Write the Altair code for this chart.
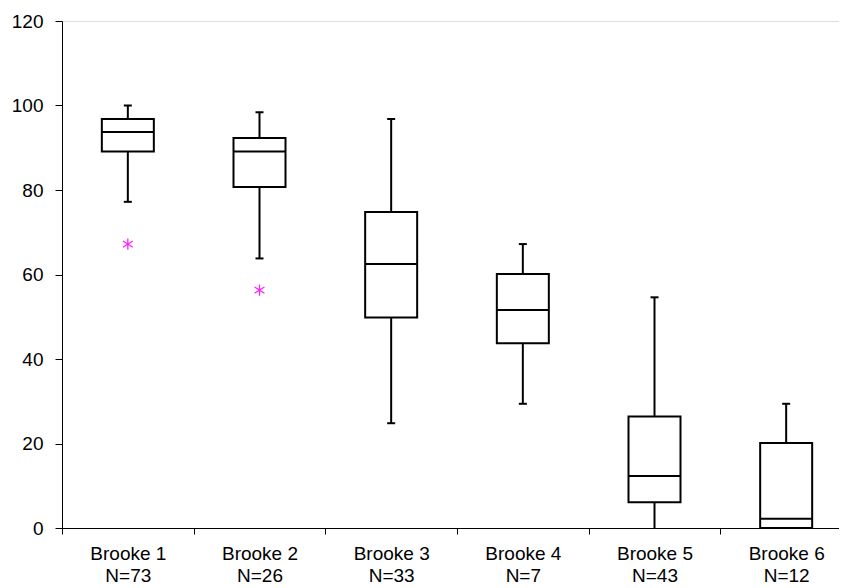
import altair as alt
import pandas as pd

sites = ["Brooke 1", "Brooke 2", "Brooke 3", "Brooke 4", "Brooke 5", "Brooke 6"]
ns = [73, 26, 33, 7, 43, 12]
whisker_low = [77.2, 63.8, 24.8, 29.4, 0.0, 0.0]
q1 = [89.1, 80.7, 49.8, 43.7, 6.1, 0.0]
median = [93.7, 89.1, 62.5, 51.6, 12.3, 2.2]
q3 = [96.8, 92.3, 74.8, 60.1, 26.4, 20.1]
whisker_high = [100.0, 98.4, 96.8, 67.2, 54.6, 29.4]

outlier_sites = ["Brooke 1", "Brooke 2"]
outlier_values = [67.2, 56.3]

y_ticks = [0, 20, 40, 60, 80, 100, 120]

cats = [f"{s}\nN={n}" for s, n in zip(sites, ns)]
lab = dict(zip(sites, cats))

df = pd.DataFrame({
    "cat": cats, "lo": whisker_low, "q1": q1, "med": median,
    "q3": q3, "hi": whisker_high,
})
out_df = pd.DataFrame({"cat": [lab[s] for s in outlier_sites], "val": outlier_values})

FONT = "Liberation Sans"
FS = 19

x = alt.X(
    "cat:N", sort=cats, title=None,
    scale=alt.Scale(domain=cats, range=[0, 790], paddingInner=0, paddingOuter=0),
    axis=alt.Axis(
        labelExpr="split(datum.label, '\\n')", labelAngle=0, tickBand="extent",
        tickSize=6, labelPadding=10, labelLineHeight=22, labelFontSize=FS,
        labelFont=FONT, labelColor="black", domainColor="black", tickColor="black",
        labelBaseline="top",
    ),
)
yscale = alt.Scale(domain=[0, 120], nice=False, zero=True)
yaxis = alt.Axis(values=y_ticks, grid=False, tickSize=7, labelPadding=12,
                 labelFontSize=FS, labelFont=FONT, labelColor="black",
                 domainColor="black", tickColor="black")

base = alt.Chart(df)

whiskers = base.mark_rule(color="black", strokeWidth=2).encode(
    x=x,
    y=alt.Y("lo:Q", scale=yscale, axis=yaxis, title=None),
    y2="hi:Q",
)
boxes = base.mark_bar(size=52, fill="white", stroke="black", strokeWidth=2).encode(
    x=x, y=alt.Y("q1:Q", scale=yscale), y2="q3:Q",
)
med = base.mark_tick(size=52, thickness=2, color="black", opacity=1).encode(
    x=x, y=alt.Y("med:Q", scale=yscale),
)
cap_hi = base.mark_tick(size=8, thickness=2, color="black", opacity=1).encode(
    x=x, y=alt.Y("hi:Q", scale=yscale),
)
cap_lo = base.transform_filter("datum.lo > 0").mark_tick(
    size=8, thickness=2, color="black", opacity=1
).encode(x=x, y=alt.Y("lo:Q", scale=yscale))
star = "M0,-1L0,1M-0.87,-0.55L0.87,0.55M-0.87,0.55L0.87,-0.55"
outliers = alt.Chart(out_df).mark_point(
    shape=star, filled=False, stroke="#ff22ff", strokeWidth=1.3, size=130, opacity=1
).encode(x=x, y=alt.Y("val:Q", scale=yscale))

chart = alt.layer(whiskers, boxes, med, cap_hi, cap_lo, outliers).properties(
    width=777, height=507,
    autosize=alt.AutoSizeParams(type="none"),
    padding={"left": 54, "top": 13, "right": 0, "bottom": 60},
).configure_view(stroke=None).configure(background="white")

chart.save("out.html", embed_options={"renderer": "svg", "actions": False})
